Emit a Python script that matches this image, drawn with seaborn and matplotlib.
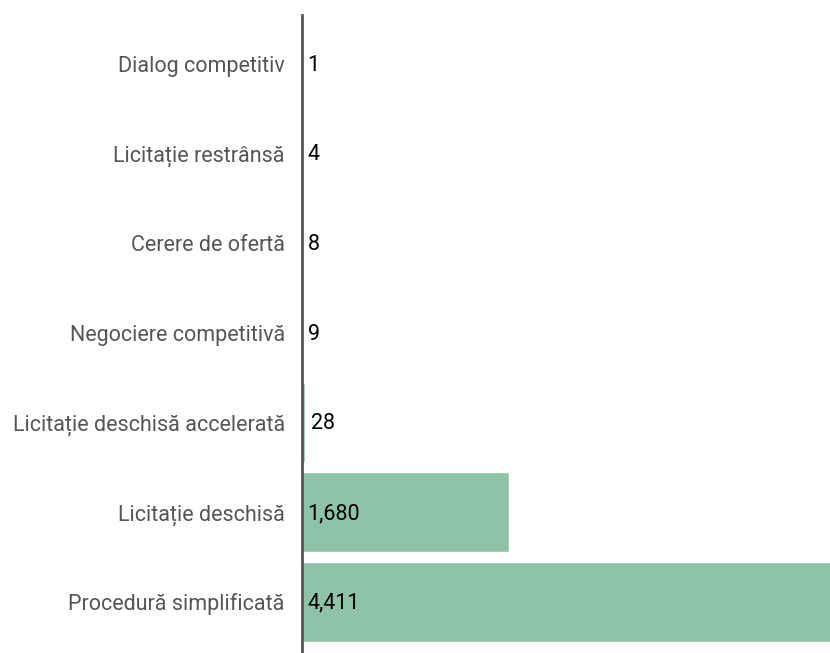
import matplotlib
matplotlib.use("Agg")
import matplotlib.pyplot as plt
import seaborn as sns
import pandas as pd

categories = [
    "Dialog competitiv",
    "Licitație restrânsă",
    "Cerere de ofertă",
    "Negociere competitivă",
    "Licitație deschisă accelerată",
    "Licitație deschisă",
    "Procedură simplificată",
]
values = [1, 4, 8, 9, 28, 1680, 4411]
value_labels = ["1", "4", "8", "9", "28", "1,680", "4,411"]

sns.set_theme(style="white")
plt.rcParams['font.family'] = ['Roboto', 'DejaVu Sans']

df = pd.DataFrame({"procedura": categories, "numar": values})

fig = plt.figure(figsize=(8.3, 6.53), dpi=100)
ax = fig.add_axes([301.5 / 830, 0, 1 - 301.5 / 830, (653 - 15) / 653])

sns.barplot(data=df, x="numar", y="procedura", orient="h", color="#8ec3a7",
            saturation=1, width=0.89, ax=ax)

ax.set_xlim(0, 4270)
ax.set_ylim(6.57, -0.546)

for i, (v, lab) in enumerate(zip(values, value_labels)):
    # small bars get the label after the end, wide ones inside at the left
    x = v if v < 100 else 0
    ax.annotate(lab, xy=(x, i), xytext=(4, -1), textcoords="offset points",
                ha="left", va="center", fontsize=15.5, color="black")

ax.set_xlabel("")
ax.set_ylabel("")
ax.set_xticks([])
ax.tick_params(axis="y", length=0, pad=12, labelsize=15.5, labelcolor="#555555")
for s in ["top", "right", "bottom"]:
    ax.spines[s].set_visible(False)
ax.spines["left"].set_color("#555555")
ax.spines["left"].set_linewidth(2)
ax.spines["left"].set_zorder(5)

fig.savefig("out.png", dpi=100, facecolor="white")
